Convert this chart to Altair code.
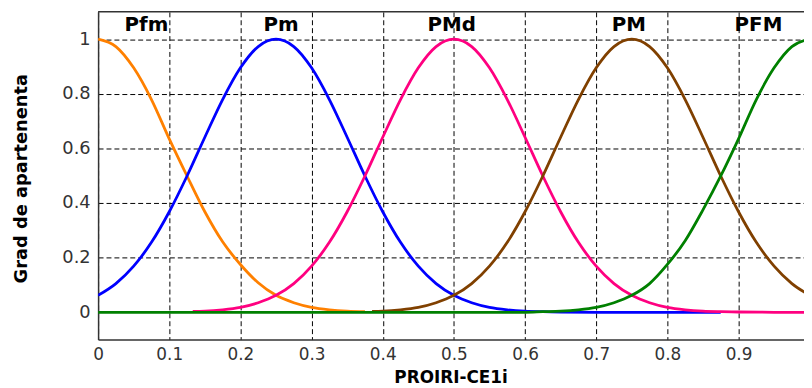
import altair as alt
import pandas as pd

# ---- data ----
x_pfm = [0.0, 0.025, 0.05, 0.075, 0.1, 0.125, 0.15, 0.175, 0.2, 0.225, 0.25, 0.275, 0.3, 0.325, 0.35, 0.375]
y_pfm = [1.0, 0.973, 0.895, 0.779, 0.635, 0.499, 0.368, 0.258, 0.175, 0.108, 0.062, 0.035, 0.018, 0.009, 0.004, 0.002]

x_pm = [0.0, 0.025, 0.05, 0.075, 0.1, 0.125, 0.15, 0.175, 0.2, 0.225, 0.25, 0.275, 0.3, 0.325, 0.35,
        0.375, 0.4, 0.425, 0.45, 0.475, 0.5, 0.525, 0.55, 0.575, 0.6, 0.625, 0.65, 0.7, 0.75, 0.8, 0.875]
y_pm = [0.062, 0.105, 0.169, 0.256, 0.368, 0.499, 0.641, 0.779, 0.895, 0.973, 1.0, 0.973, 0.895, 0.779, 0.641,
        0.499, 0.368, 0.256, 0.169, 0.105, 0.062, 0.035, 0.018, 0.009, 0.004, 0.002, 0.001, 0.0, 0.0, 0.0, 0.0]

x_pmd = [0.133, 0.15, 0.175, 0.2, 0.225, 0.25, 0.275, 0.3, 0.325, 0.35, 0.375, 0.4, 0.425, 0.45, 0.475, 0.5,
         0.525, 0.55, 0.575, 0.6, 0.625, 0.65, 0.675, 0.7, 0.725, 0.75, 0.775, 0.8, 0.825, 0.85, 0.875,
         0.9, 0.95, 1.0]
y_pmd = [0.003, 0.004, 0.009, 0.018, 0.035, 0.062, 0.105, 0.169, 0.256, 0.368, 0.499, 0.641, 0.779, 0.895, 0.973, 1.0,
         0.973, 0.895, 0.779, 0.641, 0.499, 0.368, 0.256, 0.169, 0.105, 0.062, 0.035, 0.018, 0.009, 0.004, 0.002,
         0.001, 0.0, 0.0]

x_pmm = [0.385, 0.4, 0.425, 0.45, 0.475, 0.5, 0.525, 0.55, 0.575, 0.6, 0.625, 0.65, 0.675, 0.7, 0.725, 0.75,
         0.775, 0.8, 0.825, 0.85, 0.875, 0.9, 0.925, 0.95, 0.975, 1.0]
y_pmm = [0.003, 0.004, 0.009, 0.018, 0.035, 0.062, 0.105, 0.169, 0.256, 0.368, 0.499, 0.641, 0.779, 0.895, 0.973, 1.0,
         0.973, 0.895, 0.779, 0.641, 0.499, 0.368, 0.256, 0.169, 0.105, 0.062]

x_pfmm = [0.0, 0.1, 0.2, 0.3, 0.4, 0.5, 0.6, 0.625, 0.65, 0.675, 0.7, 0.725, 0.75, 0.775, 0.8, 0.825, 0.85, 0.875,
          0.9, 0.925, 0.95, 0.975, 1.0]
y_pfmm = [0.0, 0.0, 0.0, 0.0, 0.0, 0.0, 0.0, 0.002, 0.004, 0.009, 0.018, 0.035, 0.062, 0.105, 0.175, 0.262, 0.375, 0.499,
          0.635, 0.779, 0.895, 0.973, 1.0]

series_x = [x_pfm, x_pm, x_pmd, x_pmm, x_pfmm]
series_y = [y_pfm, y_pm, y_pmd, y_pmm, y_pfmm]
series_colors = ["#FF8000", "#0000FF", "#FF0080", "#804000", "#008000"]

names = ["Pfm", "Pm", "PMd", "PM", "PFM"]
name_x = [0.068, 0.257, 0.497, 0.746, 0.928]
name_y = [1.03, 1.03, 1.03, 1.03, 1.03]

x_ticks = [0, 0.1, 0.2, 0.3, 0.4, 0.5, 0.6, 0.7, 0.8, 0.9]
y_ticks = [0, 0.2, 0.4, 0.6, 0.8, 1]

x_scale = alt.Scale(domain=[0, 0.992], nice=False, zero=False)
y_scale = alt.Scale(domain=[-0.1, 1.1], nice=False, zero=False)

FONT = "DejaVu Sans"

x_axis = alt.Axis(values=x_ticks, format="~g", title="PROIRI-CE1i", grid=True,
                  gridDash=[5, 3], gridColor="#000000", gridOpacity=1, gridWidth=1,
                  ticks=False, labelPadding=7, labelFont=FONT, labelFontSize=17,
                  labelColor="#333333", domainColor="#333333", domainWidth=1.5,
                  titleFont=FONT, titleFontSize=17, titleFontWeight="bold", titleColor="#000000",
                  titleBaseline="alphabetic", titleY=43, titleX=356, titleAlign="center",
                  labelFlush=False)
y_axis = alt.Axis(values=y_ticks, format="~g", title="Grad de apartenenta", grid=True,
                  gridDash=[5, 3], gridColor="#000000", gridOpacity=1, gridWidth=1,
                  ticks=False, labelPadding=8, labelFont=FONT, labelFontSize=18,
                  labelColor="#333333", domainColor="#333333", domainWidth=1.5,
                  titleFont=FONT, titleFontSize=18, titleFontWeight="bold", titleColor="#000000",
                  titleBaseline="middle", titleX=-77, titleY=168, titleAngle=270, titleAlign="center",
                  labelFlush=False)

X = lambda: alt.X("x:Q", scale=x_scale, axis=x_axis)
Y = lambda: alt.Y("y:Q", scale=y_scale, axis=y_axis)

layers = []
for xs, ys, col in zip(series_x, series_y, series_colors):
    df = pd.DataFrame({"x": xs, "y": ys})
    layers.append(
        alt.Chart(df).mark_line(color=col, strokeWidth=2.8, interpolate="monotone", clip=True).encode(
            x=X(), y=Y()
        )
    )

labels_df = pd.DataFrame({"name": names, "x": name_x, "y": name_y})
layers.append(
    alt.Chart(labels_df).mark_text(font=FONT, fontSize=20, fontWeight="bold", color="#000000",
                                   baseline="alphabetic", align="center").encode(
        x=X(), y=Y(), text="name:N",
    )
)

top_border = alt.Chart(pd.DataFrame({"a": [0]})).mark_rule(color="#333333", strokeWidth=1.5).encode(
    y=alt.value(0)
)
layers.append(top_border)

chart = alt.layer(*layers).properties(
    width=713,
    height=331,
    autosize=alt.AutoSizeParams(type="none"),
    padding={"left": 91, "top": 2, "right": 0, "bottom": 46},
    background="#FFFFFF",
).configure_view(stroke=None)

chart.save("out.html", embed_options={"renderer": "svg", "actions": False})
